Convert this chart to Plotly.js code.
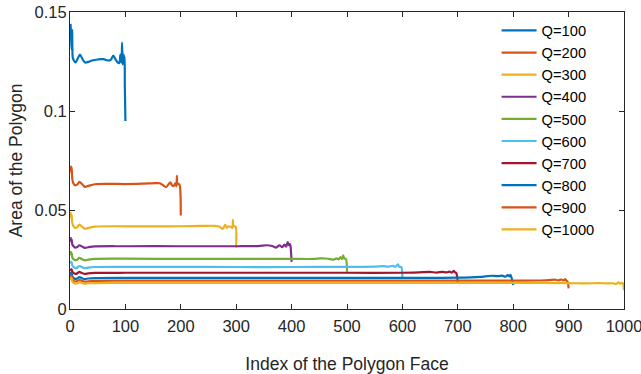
<!DOCTYPE html>
<html>
<head>
<meta charset="utf-8">
<script src="https://cdn.plot.ly/plotly-3.0.1.min.js"></script>
<style>html,body{margin:0;padding:0;background:#fff;}#chart{width:641px;height:374px;}</style>
</head>
<body>
<div id="chart"></div>
<script>
const seriesNames = ['Q=100','Q=200','Q=300','Q=400','Q=500','Q=600','Q=700','Q=800','Q=900','Q=1000'];
const xTickVals = [0,100,200,300,400,500,600,700,800,900,1000];
const yTickVals = [0,0.05,0.1,0.15];
const yTickText = ['0','0.05','0.1','0.15'];

const idx100 = [1,2,3,4,5,7,10,14,18,22,27,33,40,50,60,68,74,78,82,86,89,91,93,94,95,96,98,99,100];
const area100 = [0.144,0.137,0.131,0.141,0.127,0.1255,0.1245,0.1265,0.1285,0.1265,0.1245,0.1248,0.1255,0.126,0.1262,0.1255,0.126,0.128,0.1262,0.1245,0.1242,0.1285,0.1245,0.1345,0.1235,0.1285,0.127,0.112,0.095];

const idx200 = [1,2,3,4,6,9,13,17,22,27,33,45,70,100,130,155,162,168,173,178,181,184,187,190,192,193,194,196,198,200];
const area200 = [0.0724,0.069,0.0715,0.066,0.0635,0.0625,0.0628,0.0642,0.063,0.0617,0.0622,0.063,0.0632,0.0631,0.0633,0.0636,0.0635,0.0625,0.0615,0.063,0.064,0.0625,0.062,0.0635,0.062,0.0672,0.063,0.0632,0.0625,0.0472];

const idx300 = [1,2,3,4,6,9,13,17,22,27,33,45,80,120,160,200,240,262,270,276,280,283,286,290,293,294,295,297,299,300];
const area300 = [0.0489,0.046,0.0475,0.0435,0.042,0.041,0.0413,0.0426,0.0415,0.0405,0.041,0.0416,0.0418,0.0417,0.0417,0.0418,0.042,0.042,0.0415,0.0405,0.0425,0.041,0.0418,0.0415,0.041,0.045,0.042,0.0418,0.0416,0.031];

const idx400 = [1,2,3,4,6,9,13,17,22,27,33,45,100,200,300,340,355,365,372,378,383,387,390,393,395,397,398,400];
const area400 = [0.0363,0.034,0.0352,0.0328,0.0318,0.031,0.0313,0.0322,0.0315,0.0309,0.0312,0.0316,0.0317,0.0317,0.0317,0.0318,0.0322,0.0318,0.031,0.0322,0.0312,0.0325,0.0315,0.0338,0.0322,0.0328,0.0318,0.0238];

const idx500 = [1,2,3,4,6,9,13,17,22,27,33,45,100,200,300,400,440,452,462,470,476,481,485,488,491,493,495,498,500];
const area500 = [0.0293,0.0275,0.0283,0.0262,0.0253,0.0247,0.0249,0.0258,0.0251,0.0246,0.0249,0.0253,0.0254,0.0253,0.0253,0.0253,0.0253,0.0256,0.0255,0.0252,0.0249,0.0256,0.025,0.0262,0.0252,0.0271,0.0255,0.0253,0.0188];

const idx600 = [1,2,3,4,6,9,13,17,22,27,33,45,100,200,300,400,500,550,565,575,582,587,590,592,594,596,598,600];
const area600 = [0.0243,0.0232,0.0237,0.0222,0.0213,0.0207,0.0209,0.0217,0.0211,0.0206,0.0209,0.0212,0.0213,0.0213,0.0212,0.0212,0.0213,0.0214,0.0217,0.0214,0.0218,0.0213,0.022,0.0226,0.0214,0.0213,0.0212,0.0159];

const idx700 = [1,2,3,4,6,9,13,17,22,27,33,45,100,200,300,400,500,600,630,650,662,672,680,685,689,693,695,697,700];
const area700 = [0.0204,0.0196,0.02,0.0189,0.0183,0.0178,0.018,0.0187,0.0181,0.0177,0.018,0.0182,0.0183,0.0183,0.0183,0.0183,0.0183,0.0183,0.0185,0.0187,0.0184,0.0188,0.0185,0.0189,0.0184,0.0193,0.0185,0.0183,0.0137];

const idx800 = [1,2,3,4,6,9,13,17,22,27,33,45,100,200,300,400,500,600,700,740,760,772,780,786,790,793,795,797,800];
const area800 = [0.0188,0.0175,0.018,0.0166,0.0158,0.0152,0.0154,0.0161,0.0155,0.0151,0.0154,0.0156,0.0157,0.0157,0.0157,0.0157,0.0157,0.0157,0.0158,0.0162,0.0168,0.0166,0.0169,0.0163,0.0171,0.0165,0.0172,0.0158,0.0121];

const idx900 = [1,2,3,4,6,9,13,17,22,27,33,45,100,200,300,400,500,600,700,800,850,865,875,882,887,891,894,896,898,900];
const area900 = [0.0172,0.016,0.0166,0.0152,0.0144,0.0139,0.0141,0.0147,0.0142,0.0138,0.014,0.0142,0.0143,0.0143,0.0143,0.0143,0.0143,0.0143,0.0143,0.0143,0.0144,0.0146,0.0148,0.0145,0.0149,0.0144,0.0151,0.0143,0.014,0.0104];

const idx1000 = [1,2,3,4,6,9,13,17,22,27,33,45,100,200,300,400,500,600,700,800,900,930,955,970,980,986,990,993,996,998,1000];
const area1000 = [0.0162,0.015,0.0155,0.0141,0.0133,0.0128,0.013,0.0136,0.0131,0.0127,0.013,0.0131,0.0132,0.0132,0.0132,0.0132,0.0132,0.0132,0.0132,0.0132,0.0131,0.0129,0.0131,0.0129,0.013,0.0127,0.0134,0.0128,0.0132,0.013,0.0095];

const xs = [idx100,idx200,idx300,idx400,idx500,idx600,idx700,idx800,idx900,idx1000];
const ys = [area100,area200,area300,area400,area500,area600,area700,area800,area900,area1000];
const colors = ['#0072BD','#D95319','#EDB120','#7E2F8E','#77AC30','#4DBEEE','#A2142F','#0072BD','#D95319','#EDB120'];

const traces = seriesNames.map((n,i)=>({
  type:'scatter', mode:'lines', name:n, x:xs[i], y:ys[i],
  line:{color:colors[i], width:2.2, shape:'spline', smoothing:0.8}
}));

const fontFam = 'Arial, "Liberation Sans", Helvetica, sans-serif';
const axColor = '#262626';
const layout = {
  width:641, height:374,
  margin:{l:70, r:17, t:12, b:65},
  paper_bgcolor:'#fff', plot_bgcolor:'#fff',
  font:{family:fontFam, color:axColor, size:16},
  showlegend:true,
  legend:{x:0.77, xanchor:'left', y:0.992, yanchor:'top', itemwidth:35, bgcolor:'rgba(0,0,0,0)', borderwidth:0, font:{size:14.7, color:'#000'}},
  xaxis:{
    range:[0,1000], tickvals:xTickVals, ticks:'inside', ticklen:5, tickcolor:axColor,
    showline:true, linecolor:axColor, linewidth:1, mirror:'ticks', showgrid:false, zeroline:false,
    tickfont:{size:16.5, color:axColor}, ticklabelstandoff:2, ticklabeloverflow:'allow',
    title:{text:'Index of the Polygon Face', font:{size:17.5, color:axColor}, standoff:23}
  },
  yaxis:{
    range:[0,0.15], tickvals:yTickVals, ticktext:yTickText, ticks:'inside', ticklen:5, tickcolor:axColor,
    showline:true, linecolor:axColor, linewidth:1, mirror:'ticks', showgrid:false, zeroline:false,
    tickfont:{size:16.5, color:axColor}, ticklabelstandoff:-1, ticklabeloverflow:'allow',
    title:{text:'Area of the Polygon', font:{size:17.5, color:axColor}, standoff:7}
  }
};
Plotly.newPlot('chart', traces, layout, {displayModeBar:false, staticPlot:true});
</script>
</body>
</html>
